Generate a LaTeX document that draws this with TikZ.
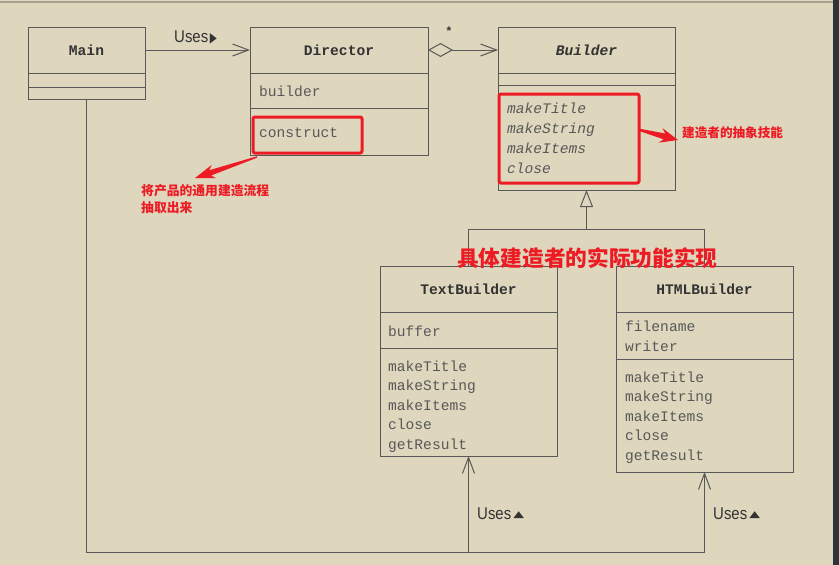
\documentclass[tikz,border=0pt]{standalone}
\usepackage{fontspec}
\usepackage{graphicx}
\usetikzlibrary{arrows.meta,calc}
\newfontfamily\monof{Liberation Mono}
\newfontfamily\sansf{Liberation Sans}[FakeStretch=0.88]
\newfontfamily\symf{DejaVu Sans}
\newfontfamily\cjkf{Noto Sans CJK SC}
\definecolor{bg}{HTML}{DED6BD}
\definecolor{ln}{HTML}{585858}
\definecolor{nm}{HTML}{333333}
\definecolor{mb}{HTML}{585858}
\definecolor{rd}{HTML}{ED1C24}
\definecolor{edgec}{HTML}{2F343A}
\definecolor{topln}{HTML}{A8A290}
\begin{document}
\begin{tikzpicture}[x=1pt,y=-1pt,
  comp/.style={draw=ln, line width=1pt, anchor=north west, inner sep=0pt, outer sep=0pt},
  cname/.style={comp, font=\monof\bfseries\fontsize{14.6}{17}\selectfont, text=nm},
  member/.style={anchor=base west, inner sep=0pt, font=\monof\fontsize{14.6}{17}\selectfont, text=mb},
  imember/.style={member, font=\monof\itshape\fontsize{14.6}{17}\selectfont},
  conn/.style={draw=ln, line width=1pt},
  barb/.style={-{Straight Barb[length=16pt,width=12pt]}},
  uses/.style={inner sep=0pt, font=\sansf\fontsize{17}{17}\selectfont, text=nm},
  redbox/.style={draw=rd, line width=3pt, rounded corners=2pt, inner sep=0pt, minimum width=#1},
  redtxt/.style={inner sep=0pt, text=rd, font=\cjkf\bfseries\fontsize{12.8}{17}\selectfont, align=left},
]
\newcommand{\triup}{\raisebox{1.5pt}{\scalebox{1}[0.65]{\symf\fontsize{14}{14}\selectfont ▲}}}
\newcommand{\triright}{\scalebox{0.65}[1]{\symf\fontsize{14}{14}\selectfont ▶}}
% background
\fill[bg] (0,0) rectangle (839,565);
\useasboundingbox (0,0) rectangle (839,565);
\draw[topln, line width=2pt] (0,2) -- (833,2);
\fill[edgec] (833,0) rectangle (839,565);

% Main
\node[cname, minimum width=117pt, minimum height=46pt] (main) at (28,27) {Main};
\node[comp, minimum width=117pt, minimum height=14pt] (main-a) at (main.south west) {};
\node[comp, minimum width=117pt, minimum height=12pt] (main-o) at (main-a.south west) {};

% Director
\node[cname, minimum width=178pt, minimum height=46pt] (director) at (250,27) {Director};
\node[comp, minimum width=178pt, minimum height=35pt] (director-a) at (director.south west) {};
\node[comp, minimum width=178pt, minimum height=47pt] (director-o) at (director-a.south west) {};
\node[member] (d-a1) at (259,96) {builder};
\node[member] (d-m1) at (259,137) {construct};

% Builder
\node[cname, font=\monof\bfseries\itshape\fontsize{14.6}{17}\selectfont, minimum width=177pt, minimum height=46pt] (builder) at (498,27) {Builder};
\node[comp, minimum width=177pt, minimum height=12pt] (builder-a) at (builder.south west) {};
\node[comp, minimum width=177pt, minimum height=105pt] (builder-o) at (builder-a.south west) {};
\foreach \t [count=\i] in {makeTitle,makeString,makeItems,close}
  \node[imember] (b-m\i) at (507,{113+20*(\i-1)}) {\t};

% TextBuilder
\node[cname, minimum width=177pt, minimum height=46pt] (tb) at (380,266) {TextBuilder};
\node[comp, minimum width=177pt, minimum height=36pt] (tb-a) at (tb.south west) {};
\node[comp, minimum width=177pt, minimum height=108pt] (tb-o) at (tb-a.south west) {};
\node[member] (tb-a1) at (388,336) {buffer};
\foreach \t [count=\i] in {makeTitle,makeString,makeItems,close,getResult}
  \node[member] (tb-m\i) at (388,{371+19.5*(\i-1)}) {\t};

% HTMLBuilder
\node[cname, minimum width=177pt, minimum height=46pt] (hb) at (616,266) {HTMLBuilder};
\node[comp, minimum width=177pt, minimum height=47pt] (hb-a) at (hb.south west) {};
\node[comp, minimum width=177pt, minimum height=113pt] (hb-o) at (hb-a.south west) {};
\node[member] (hb-a1) at (625,331) {filename};
\node[member] (hb-a2) at (625,351) {writer};
\foreach \t [count=\i] in {makeTitle,makeString,makeItems,close,getResult}
  \node[member] (hb-m\i) at (625,{382+19.5*(\i-1)}) {\t};

% Main -> Director
\draw[conn, barb] (main.east) -- (director.west);
\node[uses, anchor=base] (uses1) at ($(main.east)!0.5!(director.west)+(-2,-7.5)$) {Uses\kern1.5pt\triright};

% Director <>-> Builder
\draw[conn, {Diamond[length=25pt,width=14pt,fill=bg]}-{Straight Barb[length=16pt,width=12pt]}] (director.east) -- (builder.west);
\node[inner sep=0pt, font=\monof\bfseries\fontsize{12}{12}\selectfont, text=nm] (mult) at (449,31) {*};

% Generalization
\coordinate (gj) at ($(builder-o.south)+(0,39)$);
\draw[conn, {Triangle[length=17pt,width=13pt,fill=bg]}-] (builder-o.south) -- (gj) -| (tb.north);
\draw[conn] (gj) -| (hb.north);

% Bottom uses connectors
\coordinate (bl) at (0,552);
\draw[conn, barb] (main-o.south) -- (main-o.south |- bl) -| (hb-o.south);
\draw[conn, barb] (tb-o.south |- bl) -- (tb-o.south);
\node[uses, anchor=base west] (uses2) at (477,519) {Uses\kern2pt\triup};
\node[uses, anchor=base west] (uses3) at (713,519) {Uses\kern2pt\triup};

% Red annotations
\node[redbox=109pt, minimum height=36pt] (rb1) at (307.5,135) {};
\node[redbox=140pt, minimum height=89pt] (rb2) at (569,138.5) {};

\coordinate (r1s) at (257,157);
\coordinate (r1e) at (195,178);
\coordinate (r1h) at ($(r1e)!16pt!(r1s)$);
\coordinate (r1b) at ($(r1e)!20pt!(r1s)$);
\fill[rd] ($(r1s)!0.7pt!90:(r1e)$) -- ($(r1h)!2.8pt!90:(r1e)$) -- ($(r1b)!7pt!90:(r1e)$) -- (r1e)
  -- ($(r1b)!7pt!-90:(r1e)$) -- ($(r1h)!2.8pt!-90:(r1e)$) -- ($(r1s)!0.7pt!-90:(r1e)$) -- cycle;

\coordinate (r2s) at (640,130);
\coordinate (r2e) at (678,140);
\coordinate (r2h) at ($(r2e)!14pt!(r2s)$);
\coordinate (r2b) at ($(r2e)!18pt!(r2s)$);
\fill[rd] ($(r2s)!1.2pt!90:(r2e)$) -- ($(r2h)!3pt!90:(r2e)$) -- ($(r2b)!7.5pt!90:(r2e)$) -- (r2e)
  -- ($(r2b)!7.5pt!-90:(r2e)$) -- ($(r2h)!3pt!-90:(r2e)$) -- ($(r2s)!1.2pt!-90:(r2e)$) -- cycle;

\node[redtxt, anchor=west] (t1) at (141,199.5) {将产品的通用建造流程\\抽取出来};
\node[redtxt, anchor=west, font=\cjkf\bfseries\fontsize{12.6}{15}\selectfont] (t2) at (682,133) {建造者的抽象技能};
\node[redtxt, anchor=west, font=\cjkf\bfseries\fontsize{21.7}{24}\selectfont] (t3) at (457,258) {具体建造者的实际功能实现};
\end{tikzpicture}
\end{document}
